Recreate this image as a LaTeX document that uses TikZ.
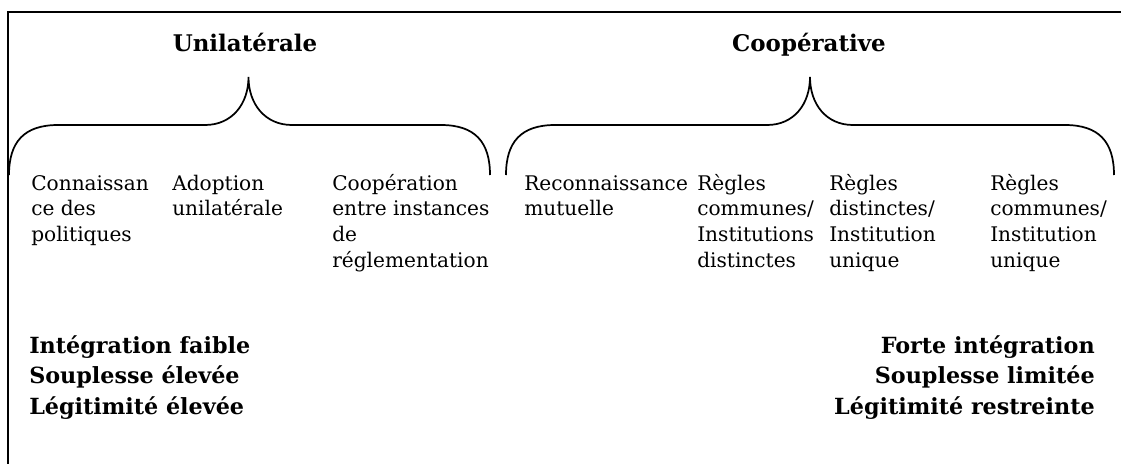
\documentclass[tikz,border=0pt]{standalone}
\usepackage{fontspec}
\setmainfont{DejaVu Serif}
\newcommand\mycol[2][l]{\begin{tabular}[t]{@{}#1@{}}#2\end{tabular}}
\begin{document}
\begin{tikzpicture}[x=0.75pt,y=-0.75pt,
  body/.style={anchor=base west, inner sep=0pt, font=\fontsize{15.1}{19.3}\selectfont},
  head/.style={anchor=base, inner sep=0pt, font=\fontsize{17.2}{20}\selectfont\bfseries},
  summary/.style={inner sep=0pt, font=\fontsize{16.7}{23}\selectfont\bfseries},
  frameline/.style={line width=1.5pt, line join=miter},
  bracket/.style={line width=1.3pt}]
\useasboundingbox (0,0) rectangle (1121,464);
% frame
\draw[frameline] (8,464) -- (8,12) -- (1121,12);
% headings
\node[head] (uni) at (245,51) {Unilatérale};
\node[head] (coop) at (809,51) {Coopérative};
% braces
\draw[bracket] (9,175) .. controls (9,142) and (24,125) .. (58,125) -- (205,125)
  .. controls (232,125) and (248.5,104) .. (248.5,77)
  .. controls (248.5,104) and (265,125) .. (292,125) -- (441,125)
  .. controls (475,125) and (490,142) .. (490,175);
\draw[bracket] (506,175) .. controls (506,142) and (521,125) .. (555,125) -- (767,125)
  .. controls (794,125) and (810,104) .. (810,77)
  .. controls (810,104) and (826,125) .. (853,125) -- (1065,125)
  .. controls (1099,125) and (1114,142) .. (1114,175);
% columns
\node[body] (c1) at (31,190) {\mycol{Connaissan\\ce des\\politiques}};
\node[body] (c2) at (172,190) {\mycol{Adoption\\unilatérale}};
\node[body] (c3) at (332,190) {\mycol{Coopération\\entre instances\\de\\réglementation}};
\node[body] (c4) at (524,190) {\mycol{Reconnaissance\\mutuelle}};
\node[body] (c5) at (697,190) {\mycol{Règles\\communes/\\Institutions\\distinctes}};
\node[body] (c6) at (829,190) {\mycol{Règles\\distinctes/\\Institution\\unique}};
\node[body] (c7) at (990,190) {\mycol{Règles\\communes/\\Institution\\unique}};
% summaries
\node[summary, anchor=base west] (low) at (29,353) {\mycol{Intégration faible\\Souplesse élevée\\Légitimité élevée}};
\node[summary, anchor=base east] (high) at (1095,353) {\mycol[r]{Forte intégration\\Souplesse limitée\\Légitimité restreinte}};
\end{tikzpicture}
\end{document}
